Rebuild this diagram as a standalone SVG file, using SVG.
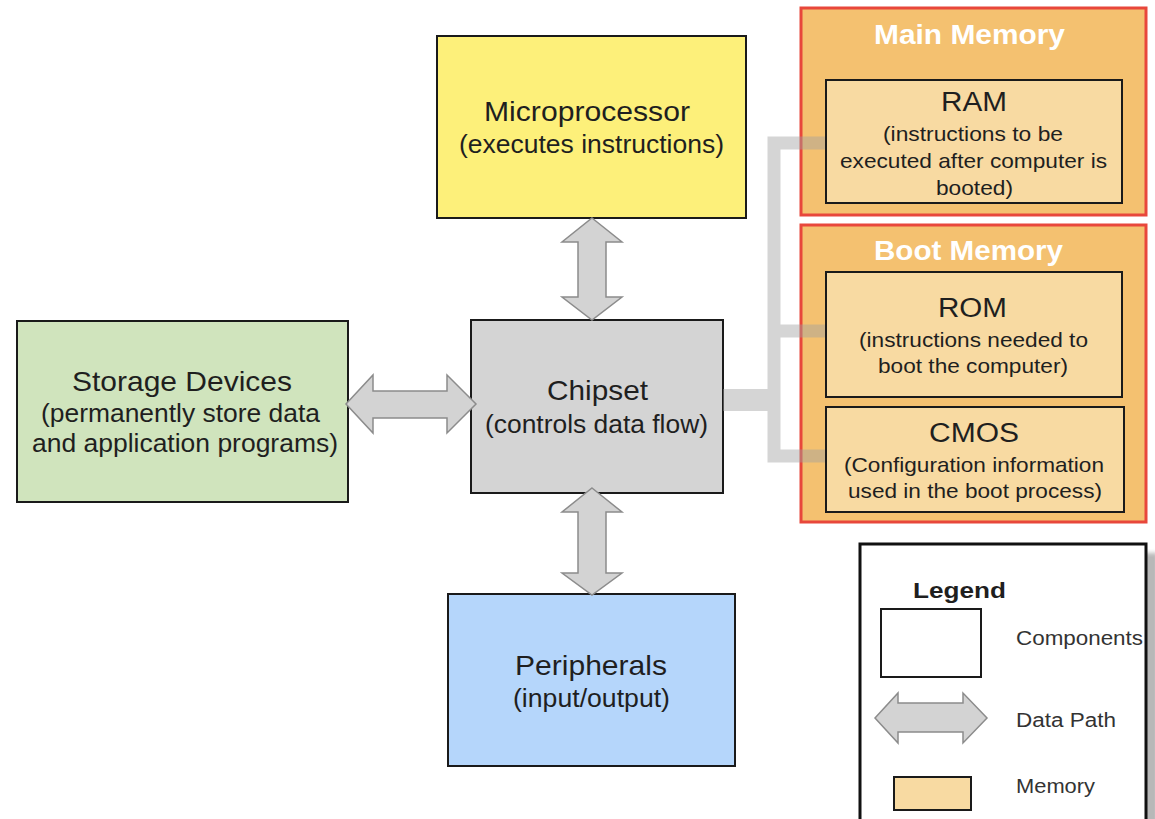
<svg xmlns="http://www.w3.org/2000/svg" width="1155" height="819" viewBox="0 0 1155 819">
  <defs>
    <style>
      .box { stroke: #1a1a1a; stroke-width: 2; }
      .panel { fill: #f4c170; stroke: #e8473b; stroke-width: 3; }
      .mem { fill: #f8daa2; stroke: #1a1a1a; stroke-width: 2; }
      .path { fill: #d3d3d3; stroke: #8c8c8c; stroke-width: 1.5; stroke-linejoin: miter; }
      text { font-family: "Liberation Sans", Arial, sans-serif; fill: #1f1f1f; }
      .t { font-size: 28px; text-anchor: middle; }
      .s { font-size: 25px; text-anchor: middle; }
      .mt { font-size: 27px; text-anchor: middle; font-weight: bold; fill: #ffffff; }
      .mn { font-size: 27px; text-anchor: middle; }
      .ms { font-size: 21px; text-anchor: middle; }
      .lg { font-size: 22px; text-anchor: middle; font-weight: bold; }
      .ll { font-size: 20px; fill: #333333; }
    </style>
    <filter id="soft" x="-10%" y="-10%" width="120%" height="120%">
      <feGaussianBlur stdDeviation="2"/>
    </filter>
  </defs>

  <rect width="1155" height="819" fill="#ffffff"/>

  <!-- Microprocessor -->
  <g id="microprocessor">
    <rect class="box" x="437" y="36" width="309" height="182" fill="#fdf07a"/>
    <text class="t" x="587" y="121" textLength="206" lengthAdjust="spacingAndGlyphs">Microprocessor</text>
    <text class="s" x="591.5" y="153" textLength="265" lengthAdjust="spacingAndGlyphs">(executes instructions)</text>
  </g>

  <!-- Storage Devices -->
  <g id="storage">
    <rect class="box" x="17" y="321" width="331" height="181" fill="#d0e4bd"/>
    <text class="t" x="182" y="391" textLength="220" lengthAdjust="spacingAndGlyphs">Storage Devices</text>
    <text class="s" x="180.5" y="422" textLength="279" lengthAdjust="spacingAndGlyphs">(permanently store data</text>
    <text class="s" x="185" y="452" textLength="306" lengthAdjust="spacingAndGlyphs">and application programs)</text>
  </g>

  <!-- Chipset -->
  <g id="chipset">
    <rect class="box" x="471" y="320" width="252" height="173" fill="#d4d4d4"/>
    <text class="t" x="597.5" y="400" textLength="101" lengthAdjust="spacingAndGlyphs">Chipset</text>
    <text class="s" x="596.5" y="433" textLength="223" lengthAdjust="spacingAndGlyphs">(controls data flow)</text>
  </g>

  <!-- Peripherals -->
  <g id="peripherals">
    <rect class="box" x="448" y="594" width="287" height="172" fill="#b5d6fb"/>
    <text class="t" x="591" y="675" textLength="152" lengthAdjust="spacingAndGlyphs">Peripherals</text>
    <text class="s" x="591.5" y="707" textLength="157" lengthAdjust="spacingAndGlyphs">(input/output)</text>
  </g>

  <!-- Memory panels -->
  <g id="main-memory">
    <rect class="panel" x="801" y="8" width="345" height="207"/>
    <text class="mt" x="969.5" y="44" textLength="191" lengthAdjust="spacingAndGlyphs">Main Memory</text>
  </g>
  <g id="boot-memory">
    <rect class="panel" x="801" y="225" width="345" height="297"/>
    <text class="mt" x="968.5" y="260" textLength="189" lengthAdjust="spacingAndGlyphs">Boot Memory</text>
  </g>

  <!-- Data paths and memory bus -->
  <g id="connectors">
    <g opacity="0.44" fill="none" stroke="#a0a0a0">
      <path d="M826 143 H774 V456 H826 M774 331 H826" stroke-width="13" stroke-linecap="butt" stroke-linejoin="miter"/>
      <path d="M723 400 H780" stroke-width="22"/>
    </g>
    <polygon class="path" points="592,218 622,242 606,242 606,297 622,297 592,320 562,297 578,297 578,242 562,242"/>
    <polygon class="path" points="592,488 622,512 606,512 606,573 622,573 592,595 562,573 578,573 578,512 562,512"/>
    <polygon class="path" points="346,404 373,375 373,391 447,391 447,375 476,404 447,433 447,418 373,418 373,433"/>
  </g>

  <!-- Memory chips -->
  <g id="ram">
    <rect class="mem" x="826" y="80" width="296" height="123"/>
    <text class="mn" x="974" y="111" textLength="66" lengthAdjust="spacingAndGlyphs">RAM</text>
    <text class="ms" x="973" y="141" textLength="180" lengthAdjust="spacingAndGlyphs">(instructions to be</text>
    <text class="ms" x="973.5" y="168" textLength="267" lengthAdjust="spacingAndGlyphs">executed after computer is</text>
    <text class="ms" x="974.5" y="195" textLength="77" lengthAdjust="spacingAndGlyphs">booted)</text>
  </g>
  <g id="rom">
    <rect class="mem" x="826" y="272" width="296" height="125"/>
    <text class="mn" x="972.5" y="317" textLength="69" lengthAdjust="spacingAndGlyphs">ROM</text>
    <text class="ms" x="973.5" y="347" textLength="229" lengthAdjust="spacingAndGlyphs">(instructions needed to</text>
    <text class="ms" x="973" y="373" textLength="190" lengthAdjust="spacingAndGlyphs">boot the computer)</text>
  </g>
  <g id="cmos">
    <rect class="mem" x="826" y="407" width="298" height="105"/>
    <text class="mn" x="974" y="442" textLength="90" lengthAdjust="spacingAndGlyphs">CMOS</text>
    <text class="ms" x="974" y="472" textLength="260" lengthAdjust="spacingAndGlyphs">(Configuration information</text>
    <text class="ms" x="975" y="498" textLength="254" lengthAdjust="spacingAndGlyphs">used in the boot process)</text>
  </g>

  <!-- Legend -->
  <g id="legend">
    <rect x="868" y="553" width="290" height="280" fill="#b8b8b8" filter="url(#soft)"/>
    <rect x="860" y="544" width="286" height="290" fill="#ffffff" stroke="#111111" stroke-width="3"/>
    <text class="lg" x="959.5" y="598" textLength="93" lengthAdjust="spacingAndGlyphs">Legend</text>
    <rect x="881" y="609" width="100" height="68" fill="#ffffff" stroke="#1a1a1a" stroke-width="2"/>
    <text class="ll" x="1016" y="645" textLength="127" lengthAdjust="spacingAndGlyphs">Components</text>
    <polygon class="path" points="875,718 898,693 898,703 963,703 963,693 987,718 963,743 963,732 898,732 898,743"/>
    <text class="ll" x="1016" y="727" textLength="100" lengthAdjust="spacingAndGlyphs">Data Path</text>
    <rect x="894" y="777" width="77" height="33" fill="#f8daa2" stroke="#1a1a1a" stroke-width="2"/>
    <text class="ll" x="1016" y="793" textLength="79" lengthAdjust="spacingAndGlyphs">Memory</text>
  </g>
</svg>
